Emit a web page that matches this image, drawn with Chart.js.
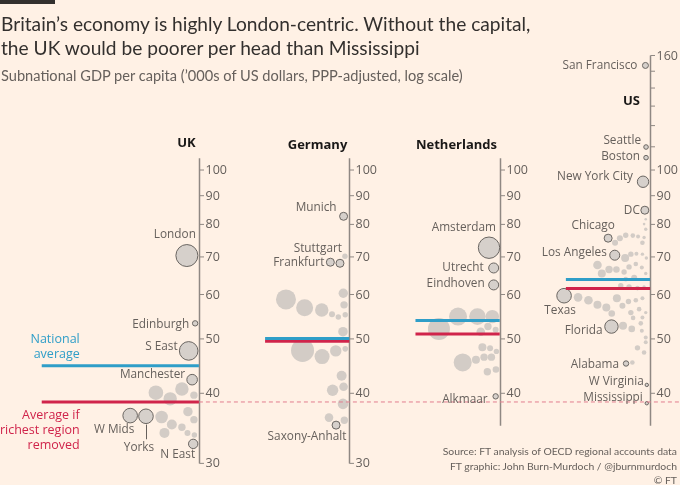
<!DOCTYPE html>
<html><head><meta charset="utf-8">
<script src="https://cdn.jsdelivr.net/npm/chart.js@4.4.1/dist/chart.umd.min.js"></script>
<style>
html,body{margin:0;padding:0;background:#fff1e5;}
#wrap{position:relative;width:680px;height:485px;overflow:hidden;background:#fff1e5;font-family:Lato,sans-serif;}
#bar{position:absolute;left:0;top:0;width:55px;height:4px;background:#33302e;}
#title{position:absolute;left:1px;top:12px;font-size:20px;line-height:24px;color:#33302e;white-space:nowrap;}
#subtitle{position:absolute;left:1px;top:67px;font-size:15px;line-height:18px;color:#66605c;white-space:nowrap;}
#source{position:absolute;right:3px;top:444px;font-size:11px;line-height:14.5px;text-align:right;color:#66605c;white-space:nowrap;}
canvas{position:absolute;left:0;top:0;}
</style></head>
<body><div id="wrap">
<canvas id="c" width="680" height="485"></canvas>
<div id="bar"></div>
<div id="title">Britain’s economy is highly London-centric. Without the capital,<br>the UK would be poorer per head than Mississippi</div>
<div id="subtitle">Subnational GDP per capita (’000s of US dollars, PPP-adjusted, log scale)</div>
<div id="source">Source: FT analysis of OECD regional accounts data<br>FT graphic: John Burn-Murdoch / @jburnmurdoch<br>© FT</div>
</div>
<script>
// ---------------- DATA ----------------
const panelNames = ['UK', 'Germany', 'Netherlands', 'US'];

// GDP per capita ('000 USD, PPP), bubble size (radius), beeswarm offset (fraction of panel spacing)
const ukRegion = ['London','Edinburgh','S East','Manchester','W Mids','Yorks','N East','','','','','','','','','','','',''];
const ukGdp    = [70.4, 53.3, 47.6, 42.3, 36.5, 36.4, 32.5, 40.1, 39.1, 40.7, 39.7, 36.3, 37.1, 35.9, 35.2, 34.8, 34.0, 34.0, 33.7];
const ukSize   = [11, 2.7, 9.3, 5.3, 7.3, 7.3, 4.7, 7.3, 6.7, 6.7, 3.7, 6.3, 4.7, 3.7, 5, 3.7, 5, 3, 2.7];
const ukSwarm  = [-0.080,-0.025,-0.068,-0.045,-0.457,-0.352,-0.038,-0.286,-0.191,-0.113,-0.033,-0.248,-0.073,-0.033,-0.180,-0.113,-0.229,-0.076,-0.030];

const deRegion = ['Munich','Stuttgart','Frankfurt','Saxony-Anhalt','','','','','','','','','','','','','','','','','','','',''];
const deGdp    = [82.7, 68.2, 68.5, 35.1, 70.2, 58.8, 56.8, 56.3, 55.3, 54.7, 55.2, 60.3, 57.5, 51.5, 47.7, 46.5, 47.6, 48.0, 43.0, 40.5, 41.1, 38.3, 36.2, 35.8];
const deSize   = [4, 4, 4, 4, 2.7, 10, 8.5, 6.7, 3, 2.7, 2.7, 4.7, 3.7, 4.8, 11.5, 7.5, 5.7, 2.8, 5, 5.7, 4.3, 5.3, 4.3, 3.7];
const deSwarm  = [-0.038,-0.062,-0.126,-0.088,-0.029,-0.421,-0.297,-0.183,-0.115,-0.073,-0.027,-0.040,-0.035,-0.042,-0.311,-0.181,-0.090,-0.027,-0.051,-0.111,-0.038,-0.042,-0.135,-0.033];

const nlRegion = ['Amsterdam','Utrecht','Eindhoven','Alkmaar','','','','','','','','','','','','','','','',''];
const nlGdp    = [72.7, 66.9, 62.4, 39.5, 54.8, 54.8, 54.8, 52.1, 51.5, 52.6, 51.9, 48.3, 48.1, 47.5, 45.4, 45.9, 46.4, 46.4, 43.7, 44.1];
const nlSize   = [10.7, 5, 5, 2.7, 9, 8.3, 6.7, 11, 4.3, 3.7, 3, 4, 3, 2.7, 9, 4, 3.7, 3.7, 3.7, 3.3];
const nlSwarm  = [-0.071,-0.040,-0.040,-0.027,-0.277,-0.148,-0.049,-0.404,-0.126,-0.078,-0.027,-0.115,-0.064,-0.022,-0.246,-0.158,-0.104,-0.055,-0.082,-0.025];

const usRegion = ['San Francisco','Seattle','Boston','New York City','DC','Chicago','Los Angeles','Texas','Florida','Alabama','W Virginia','Mississippi',
  '','','','','','','','','','','','','','','','','','','','','','','','','','','','','','','','','','','','','','','','','','','','','','','','','','','','','',''];
const usGdp    = [153.6, 109.9, 105.2, 95.3, 84.8, 75.6, 70.5, 59.7, 52.6, 45.2, 41.4, 38.4,
  74.2, 75.6, 76.5, 76.4, 76.1, 75.8, 74.2, 78.4, 80.1, 81.7, 69.7, 70.8, 70.9, 70.8, 69.7, 67.7, 65.4, 66.5, 66.5, 65.8,
  67.2, 68.0, 67.0, 65.4, 64.3, 63.9, 62.2, 61.9, 61.6, 61.9, 59.3, 58.6, 57.5, 56.9, 59.1, 55.5, 57.3, 58.3, 58.6, 59.1,
  55.7, 56.5, 55.7, 54.6, 54.5, 52.8, 52.1, 53.3, 51.7, 50.3, 49.3, 48.2, 47.3, 45.4, 44.9, 44.7, 43.6, 42.7, 42.9];
const usSize   = [3, 2.3, 2.3, 5.7, 4, 4, 5, 7.3, 6.7, 2.7, 1.7, 1.7,
  3, 3, 2.7, 2.3, 2, 1.7, 2.3, 1.7, 1.3, 1.3, 4, 2.7, 2, 1.7, 1.7, 4.3, 4, 3.7, 3.3, 2.7,
  2.7, 2.3, 2, 1.7, 3, 2.3, 2.7, 2.7, 2.3, 1.7, 4.3, 4.3, 4, 4, 4, 3.3, 3, 2.7, 2.3, 2,
  2.7, 2.3, 1.7, 2, 2.3, 4, 3.3, 2.3, 2, 2, 2, 2.7, 2.3, 2.3, 2, 1.7, 1.7, 1.7, 1.3];
const usSwarm  = [-0.031,-0.027,-0.027,-0.047,-0.035,-0.279,-0.235,-0.572,-0.257,-0.160,-0.022,-0.022,
  -0.233,-0.201,-0.162,-0.115,-0.080,-0.040,-0.051,-0.029,-0.040,-0.029,-0.166,-0.128,-0.091,-0.051,-0.025,-0.350,-0.321,-0.273,-0.224,-0.173,
  -0.140,-0.095,-0.055,-0.029,-0.106,-0.162,-0.195,-0.140,-0.084,-0.040,-0.479,-0.410,-0.350,-0.291,-0.221,-0.255,-0.184,-0.144,-0.095,-0.051,
  -0.128,-0.073,-0.029,-0.051,-0.113,-0.180,-0.122,-0.062,-0.055,-0.029,-0.029,-0.084,-0.040,-0.118,-0.078,-0.040,-0.051,-0.066,-0.029];

const nationalAvg  = [44.8, 50.1, 53.9, 63.8];
const avgExRichest = [38.6, 49.5, 51.0, 61.5];

// axis ranges and ticks per panel
const axisTop    = [105, 105, 105, 160];
const axisBottom = [30, 30, 35, 35];
const tickValues = [
  [30,40,50,60,70,80,90,100],
  [30,40,50,60,70,80,90,100],
  [40,50,60,70,80,90,100],
  [40,50,60,70,80,90,100,110,120,130,140,150,160]
];
const tickLabels = [
  ['30','40','50','60','70','80','90','100'],
  ['30','40','50','60','70','80','90','100'],
  ['40','50','60','70','80','90','100'],
  ['40','50','60','70','80','90','100','','','','','','160']
];

// ---------------- LAYOUT / STYLE ----------------
const FONT = "'Open Sans', sans-serif";
const C_TEXT = '#66605c', C_AXIS = '#8f8883', C_BLUE = '#2f9ec8', C_RED = '#d0244b';
const avgLineReach = [-1.045, -0.56, -0.56, -0.56];
const headerLayout = [[-13, -15], [-32, -13], [-44, -13], [-19, 46]];   // dx from axis, dy from axis top
const labelPlacement = {
 'London':[-12,-21,'center'], 'Edinburgh':[-6,1,'right'], 'S East':[-11,-4,'right'], 'Manchester':[-7,-5,'right'],
 'W Mids':[-16,14,'center'], 'Yorks':[-7,31,'center'], 'N East':[2,11,'right'],
 'Munich':[-7,-9,'right'], 'Stuttgart':[2,-15,'right'], 'Frankfurt':[-6,0,'right'], 'Saxony-Anhalt':[-29,12,'center'],
 'Amsterdam':[7,-20,'right'], 'Utrecht':[-10,0,'right'], 'Eindhoven':[-9,-1,'right'], 'Alkmaar':[-8,3,'right'],
 'San Francisco':[-8,0,'right'], 'Seattle':[-5,-6,'right'], 'Boston':[-6,-1,'right'], 'New York City':[-10,-5,'right'],
 'DC':[-5,0,'right'], 'Chicago':[-15,-13,'center'], 'Los Angeles':[-8,-3,'right'], 'Texas':[-4,15,'center'],
 'Florida':[-9,4,'right'], 'Alabama':[-7,1,'right'], 'W Virginia':[-3,-3,'right'], 'Mississippi':[-4,-6,'right']
};

// fit HTML text widths to the reference's measured line widths
function fitFont(id, text, target, family) {
  const c = document.createElement('canvas').getContext('2d');
  c.font = '100px ' + family;
  const w = c.measureText(text).width;
  document.getElementById(id).style.fontSize = (100 * target / w).toFixed(2) + 'px';
}
fitFont('title', 'the UK would be poorer per head than Mississippi', 420, 'Lato');
fitFont('subtitle', 'Subnational GDP per capita (’000s of US dollars, PPP-adjusted, log scale)', 463, 'Lato');
fitFont('source', 'Source: FT analysis of OECD regional accounts data', 235, 'Lato');

// ---------------- BUILD ----------------
const panelData = [
  [ukRegion, ukGdp, ukSize, ukSwarm],
  [deRegion, deGdp, deSize, deSwarm],
  [nlRegion, nlGdp, nlSize, nlSwarm],
  [usRegion, usGdp, usSize, usSwarm]
];
const plain = [], named = [];
panelData.forEach(([reg, gdp, size, sw], p) => {
  reg.forEach((name, j) => {
    const pt = {x: p + sw[j], y: gdp[j], r: size[j], name};
    (name ? named : plain).push(pt);
  });
});

const datasets = [];
panelNames.forEach((n, p) => {
  datasets.push({type:'line', order:0, data:[{x:p+avgLineReach[p], y:nationalAvg[p]},{x:p, y:nationalAvg[p]}],
    borderColor:C_BLUE, borderWidth:3, pointRadius:0, clip:false});
  datasets.push({type:'line', order:0, data:[{x:p+avgLineReach[p], y:avgExRichest[p]},{x:p, y:avgExRichest[p]}],
    borderColor:C_RED, borderWidth:3, pointRadius:0, clip:false});
});
const X_MIN = -1.3225, X_MAX = 3.1988;
datasets.push({type:'line', order:1, data:[{x:0, y:avgExRichest[0]},{x:X_MAX, y:avgExRichest[0]}],
  borderColor:'#e27d8e', borderWidth:1, borderDash:[4,3], pointRadius:0, clip:false});
datasets.push({type:'bubble', order:3, data:plain, backgroundColor:'#d3ccc6', borderWidth:0, clip:false});
datasets.push({type:'bubble', order:2, data:named, backgroundColor:'#d6d0cb', borderColor:'#6a6561', borderWidth:1, clip:false});

const overlay = {
  id:'overlay',
  beforeDatasetsDraw(chart){
    const {ctx, scales:{x, y}} = chart;
    ctx.save();
    panelNames.forEach((n, p) => {
      const ax = Math.round(x.getPixelForValue(p)) + 0.5;
      const yt = y.getPixelForValue(axisTop[p]), yb = y.getPixelForValue(axisBottom[p]);
      ctx.strokeStyle = C_AXIS; ctx.lineWidth = 1.5;
      ctx.beginPath(); ctx.moveTo(ax, yt); ctx.lineTo(ax, yb); ctx.stroke();
      ctx.lineWidth = 1;
      ctx.font = '12.5px ' + FONT; ctx.fillStyle = C_TEXT; ctx.textAlign = 'left'; ctx.textBaseline = 'middle';
      tickValues[p].forEach((v, k) => {
        const ty = y.getPixelForValue(v);
        ctx.beginPath(); ctx.moveTo(ax, ty); ctx.lineTo(ax + 4.5, ty); ctx.stroke();
        if (tickLabels[p][k]) ctx.fillText(tickLabels[p][k], ax + 6, ty + 0.5);
      });
      ctx.font = 'bold 13px ' + FONT; ctx.fillStyle = '#1a1817'; ctx.textAlign = 'center';
      ctx.fillText(n, ax + headerLayout[p][0], yt + headerLayout[p][1]);
    });
    ctx.restore();
  },
  afterDatasetsDraw(chart){
    const {ctx, scales:{x, y}} = chart;
    ctx.save();
    const meta = chart.getDatasetMeta(datasets.length - 1);
    ctx.font = '11.8px ' + FONT; ctx.fillStyle = C_TEXT; ctx.textBaseline = 'middle';
    meta.data.forEach((el, i) => {
      const pt = named[i], pl = labelPlacement[pt.name];
      if (!pl) return;
      ctx.textAlign = pl[2];
      ctx.fillText(pt.name, el.x + pl[0], el.y + pl[1]);
      if (pt.name === 'Yorks') {
        ctx.strokeStyle = C_TEXT; ctx.lineWidth = 1;
        ctx.beginPath(); ctx.moveTo(Math.round(el.x)+0.5, el.y + pt.r + 1); ctx.lineTo(Math.round(el.x)+0.5, el.y + pl[1] - 8); ctx.stroke();
      }
    });
    const lx = x.getPixelForValue(avgLineReach[0]) + 38;
    const by = y.getPixelForValue(nationalAvg[0]), ry = y.getPixelForValue(avgExRichest[0]);
    ctx.font = '12.5px ' + FONT; ctx.textAlign = 'right';
    ctx.fillStyle = C_BLUE;
    ctx.fillText('National', lx, by - 26); ctx.fillText('average', lx, by - 11);
    ctx.fillStyle = C_RED;
    ctx.fillText('Average if', lx, ry + 13); ctx.fillText('richest region', lx, ry + 28); ctx.fillText('removed', lx, ry + 43);
    ctx.restore();
  }
};

new Chart(document.getElementById('c'), {
  type:'bubble',
  data:{datasets},
  options:{
    responsive:false, animation:false, events:[],
    layout:{autoPadding:false, padding:{top:26.8, bottom:4.8, left:0, right:0}},
    scales:{
      x:{type:'linear', min:X_MIN, max:X_MAX, display:false, bounds:'data'},
      y:{type:'logarithmic', min:28, max:180, display:false, bounds:'data'}
    },
    plugins:{legend:{display:false}, tooltip:{enabled:false}}
  },
  plugins:[overlay]
});
</script>
</body></html>
